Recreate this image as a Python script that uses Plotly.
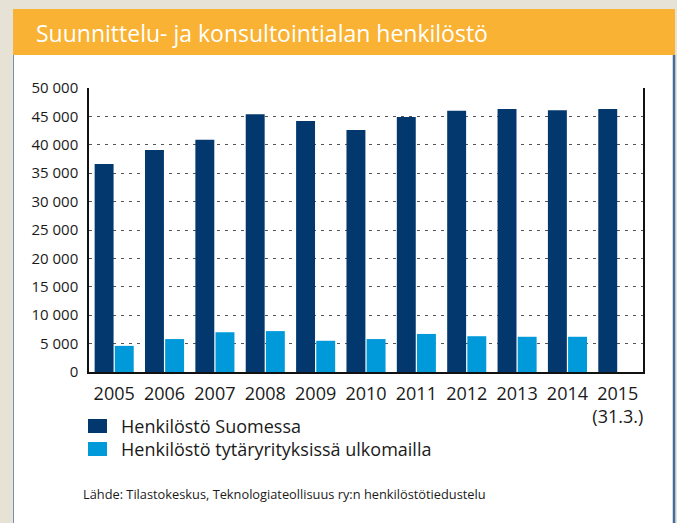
import plotly.graph_objects as go

years = ["2005", "2006", "2007", "2008", "2009", "2010", "2011", "2012", "2013", "2014", "2015"]
year_labels = ["2005", "2006", "2007", "2008", "2009", "2010", "2011", "2012", "2013", "2014", "2015<br>(31.3.)"]
suomessa = [36600, 39100, 40900, 45400, 44200, 42600, 44900, 46000, 46300, 46100, 46300]
ulkomailla = [4600, 5800, 7000, 7200, 5500, 5800, 6700, 6300, 6200, 6200, None]
y_tickvals = [0, 5000, 10000, 15000, 20000, 25000, 30000, 35000, 40000, 45000, 50000]
y_ticktext = ["0", "5 000", "10 000", "15 000", "20 000", "25 000", "30 000", "35 000", "40 000", "45 000", "50 000"]
series_names = ["Henkilöstö Suomessa", "Henkilöstö tytäryrityksissä ulkomailla"]
title = "Suunnittelu- ja konsultointialan henkilöstö"
source = "Lähde: Tilastokeskus, Teknologiateollisuus ry:n henkilöstötiedustelu"

DARK = "#03386f"
LIGHT = "#0099d9"
ORANGE = "#f9b233"
BEIGE = "#e6e2d6"
TXT = "#1a1a1a"

W, H = 677, 523
L, R, T, B = 89, 643, 88, 372


def px(x):
    return (x - L) / (R - L)


def py(y):
    return (B - y) / (B - T)


fig = go.Figure()
fig.add_bar(x=years, y=suomessa, name=series_names[0], marker_color=DARK, marker_line_width=0)
fig.add_bar(x=years, y=ulkomailla, name=series_names[1], marker_color=LIGHT, marker_line_width=0)

shapes = [
    dict(type="rect", xref="paper", yref="paper", x0=px(13), x1=px(675), y0=py(55), y1=py(523),
         fillcolor="white", line_width=0, layer="below"),
    dict(type="rect", xref="paper", yref="paper", x0=px(13), x1=px(675), y0=py(9), y1=py(55),
         fillcolor=ORANGE, line_width=0, layer="below"),
    dict(type="line", xref="paper", yref="paper", x0=px(13.5), x1=px(13.5), y0=py(55), y1=py(523),
         line=dict(color="#7092b8", width=1), layer="below"),
    dict(type="line", xref="paper", yref="paper", x0=px(674), x1=px(674), y0=py(55), y1=py(523),
         line=dict(color="#456c99", width=2.5), layer="below"),
    # legend swatches
    dict(type="rect", xref="paper", yref="paper", x0=px(88), x1=px(107), y0=py(419), y1=py(433),
         fillcolor=DARK, line_width=0),
    dict(type="rect", xref="paper", yref="paper", x0=px(88), x1=px(107), y0=py(442), y1=py(456),
         fillcolor=LIGHT, line_width=0),
]

annotations = [
    dict(text=title, xref="paper", yref="paper", x=px(34), y=py(32.5), xanchor="left", yanchor="middle",
         showarrow=False, font=dict(family="Open Sans", size=23, color="white")),
    dict(text=series_names[0], xref="paper", yref="paper", x=px(119), y=py(426), xanchor="left",
         yanchor="middle", showarrow=False, font=dict(family="Open Sans", size=18, color=TXT)),
    dict(text=series_names[1], xref="paper", yref="paper", x=px(119), y=py(449), xanchor="left",
         yanchor="middle", showarrow=False, font=dict(family="Open Sans", size=18, color=TXT)),
    dict(text=source, xref="paper", yref="paper", x=px(81), y=py(494), xanchor="left",
         yanchor="middle", showarrow=False, font=dict(family="Open Sans", size=12.8, color=TXT)),
]

fig.update_layout(
    width=W, height=H,
    margin=dict(l=L, r=W - R, t=T, b=H - B, pad=0),
    paper_bgcolor=BEIGE,
    plot_bgcolor="rgba(0,0,0,0)",
    barmode="group",
    bargap=0.2,
    bargroupgap=0.06,
    showlegend=False,
    shapes=shapes,
    annotations=annotations,
    font=dict(family="Open Sans", color=TXT),
)
fig.update_xaxes(
    type="category", tickvals=years, ticktext=year_labels, range=[-0.5, 10.5],
    showline=True, linecolor="#111", linewidth=2, showgrid=False, ticks="",
    tickfont=dict(size=18, color=TXT), ticklabelstandoff=4,
)
fig.update_yaxes(
    range=[0, 50000], tickvals=y_tickvals, ticktext=y_ticktext,
    showline=True, mirror=True, linecolor="#111", linewidth=1.5,
    showgrid=True, gridcolor="#555", gridwidth=1.3, griddash="3px,5px",
    zeroline=False, ticks="", ticklabelstandoff=6,
    tickfont=dict(size=15, color=TXT),
)

fig.write_html(
    "out.html",
    config={"displayModeBar": False},
    post_script=(
        "document.body.style.margin='0px';"
        "document.body.style.overflow='hidden';"
        "document.documentElement.style.overflow='hidden';"
        "document.body.style.background='" + BEIGE + "';"
    ),
)
